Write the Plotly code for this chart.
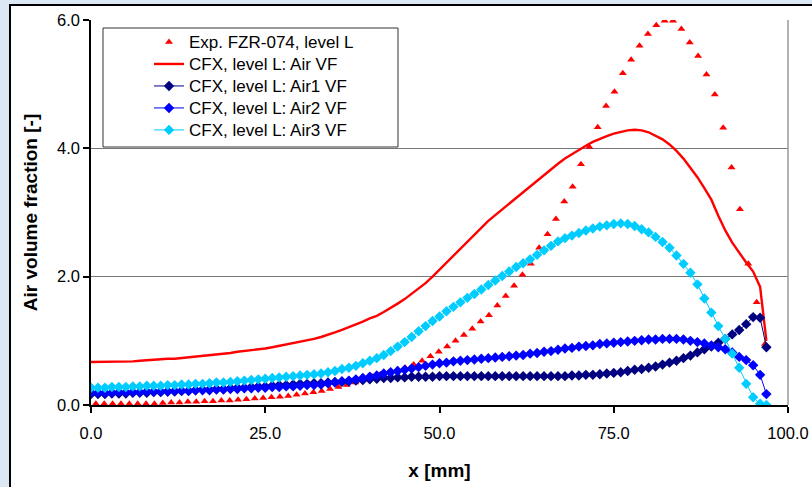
import plotly.graph_objects as go

# ---------------- data ----------------
exp_x = [0.7, 1.9, 3.1, 4.3, 5.5, 6.7, 7.9, 9.1, 10.3, 11.5, 12.7, 13.9, 15.1, 16.3, 17.5,
         18.7, 19.9, 21.1, 22.3, 23.5, 24.7, 25.9, 27.1, 28.3, 29.5, 30.7, 31.9, 33.1, 34.3,
         35.5, 36.7, 37.9, 39.1, 40.3, 41.5, 42.7, 43.9, 45.1, 46.3, 47.5, 48.7, 49.9, 51.1,
         52.3, 53.5, 54.7, 55.9, 57.1, 58.3, 59.5, 60.7, 61.9, 63.1, 64.3, 65.5, 66.7, 67.9,
         69.1, 70.3, 71.5, 72.7, 73.9, 75.1, 76.3, 77.5, 78.7, 79.9, 81.1, 82.3, 83.5, 84.7,
         85.9, 87.1, 88.3, 89.5, 90.7, 91.9, 93.1, 94.3, 95.5, 96.7]
exp_y = [0.02, 0.02, 0.02, 0.02, 0.02, 0.02, 0.02, 0.02, 0.03, 0.04, 0.04, 0.05, 0.05, 0.06, 0.06,
         0.07, 0.07, 0.08, 0.09, 0.10, 0.11, 0.12, 0.13, 0.14, 0.16, 0.18, 0.20, 0.22, 0.25,
         0.28, 0.31, 0.35, 0.40, 0.45, 0.48, 0.51, 0.55, 0.58, 0.63, 0.69, 0.76, 0.83, 0.91,
         1.00, 1.09, 1.19, 1.30, 1.40, 1.55, 1.70, 1.86, 2.03, 2.20, 2.45, 2.66, 2.90, 3.17,
         3.40, 3.75, 4.02, 4.33, 4.66, 4.88, 5.17, 5.38, 5.60, 5.78, 5.92, 5.99, 5.99, 5.86,
         5.65, 5.44, 5.15, 4.84, 4.32, 3.70, 3.05, 2.20, 1.60, 0.95]

cfx_x = [0, 1, 2, 3, 4, 5, 6, 7, 8, 9, 10, 11, 12, 13, 14, 15, 16, 17, 18, 19,
         20, 21, 22, 23, 24, 25, 26, 27, 28, 29, 30, 31, 32, 33, 34, 35, 36, 37, 38, 39,
         40, 41, 42, 43, 44, 45, 46, 47, 48, 49, 50, 51, 52, 53, 54, 55, 56, 57, 58, 59,
         60, 61, 62, 63, 64, 65, 66, 67, 68, 69, 70, 71, 72, 73, 74, 75, 76, 77, 78, 79,
         80, 81, 82, 83, 84, 85, 86, 87, 88, 89, 90, 91, 92, 93, 94, 95, 96, 96.9]

air_vf = [0.67, 0.67, 0.67, 0.67, 0.68, 0.68, 0.68, 0.69, 0.70, 0.71, 0.71, 0.72, 0.72, 0.73, 0.74,
          0.75, 0.76, 0.77, 0.78, 0.80, 0.81, 0.83, 0.84, 0.86, 0.87, 0.88, 0.90, 0.92, 0.94, 0.96,
          0.98, 1.01, 1.03, 1.06, 1.09, 1.13, 1.17, 1.21, 1.25, 1.30, 1.35, 1.39, 1.45, 1.51, 1.58,
          1.65, 1.73, 1.81, 1.90, 2.00, 2.11, 2.22, 2.33, 2.44, 2.55, 2.66, 2.77, 2.87, 2.96, 3.05,
          3.14, 3.23, 3.32, 3.41, 3.50, 3.58, 3.67, 3.76, 3.84, 3.91, 3.98, 4.04, 4.10, 4.15, 4.19,
          4.23, 4.26, 4.28, 4.29, 4.28, 4.25, 4.20, 4.14, 4.06, 3.96, 3.84, 3.70, 3.55, 3.38, 3.20,
          2.95, 2.72, 2.53, 2.37, 2.22, 2.08, 1.84, 1.00]

air1_vf = [0.17, 0.17, 0.17, 0.18, 0.18, 0.18, 0.19, 0.19, 0.19, 0.20, 0.20, 0.21, 0.21, 0.22, 0.22,
           0.23, 0.24, 0.24, 0.25, 0.25, 0.26, 0.27, 0.27, 0.28, 0.29, 0.29, 0.30, 0.31, 0.31, 0.32,
           0.33, 0.33, 0.34, 0.34, 0.35, 0.36, 0.36, 0.37, 0.38, 0.39, 0.40, 0.41, 0.42, 0.42, 0.43,
           0.43, 0.44, 0.44, 0.44, 0.44, 0.45, 0.45, 0.45, 0.45, 0.45, 0.45, 0.45, 0.45, 0.45, 0.45,
           0.45, 0.45, 0.45, 0.45, 0.45, 0.45, 0.45, 0.45, 0.45, 0.46, 0.46, 0.47, 0.47, 0.48, 0.49,
           0.50, 0.51, 0.53, 0.55, 0.56, 0.58, 0.60, 0.63, 0.66, 0.69, 0.73, 0.77, 0.82, 0.87, 0.91,
           0.97, 1.03, 1.10, 1.17, 1.26, 1.37, 1.36, 0.90]

air2_vf = [0.19, 0.19, 0.19, 0.19, 0.20, 0.20, 0.20, 0.20, 0.21, 0.21, 0.21, 0.21, 0.22, 0.22, 0.22,
           0.23, 0.23, 0.23, 0.24, 0.24, 0.25, 0.25, 0.26, 0.26, 0.27, 0.27, 0.28, 0.28, 0.29, 0.29,
           0.30, 0.31, 0.31, 0.32, 0.34, 0.35, 0.37, 0.38, 0.40, 0.42, 0.44, 0.46, 0.49, 0.51, 0.53,
           0.55, 0.57, 0.59, 0.61, 0.63, 0.65, 0.66, 0.68, 0.69, 0.70, 0.71, 0.72, 0.73, 0.74, 0.75,
           0.76, 0.77, 0.78, 0.80, 0.81, 0.83, 0.84, 0.86, 0.88, 0.89, 0.91, 0.92, 0.93, 0.95, 0.96,
           0.97, 0.98, 0.99, 1.00, 1.01, 1.02, 1.02, 1.03, 1.03, 1.03, 1.02, 1.00, 0.98, 0.96, 0.93,
           0.90, 0.87, 0.82, 0.75, 0.70, 0.62, 0.47, 0.17]

air3_vf = [0.27, 0.27, 0.27, 0.28, 0.28, 0.28, 0.29, 0.29, 0.30, 0.30, 0.30, 0.31, 0.31, 0.32, 0.32,
           0.33, 0.33, 0.34, 0.35, 0.35, 0.36, 0.37, 0.38, 0.39, 0.40, 0.41, 0.42, 0.43, 0.44, 0.45,
           0.46, 0.47, 0.48, 0.49, 0.51, 0.53, 0.56, 0.58, 0.61, 0.65, 0.69, 0.73, 0.78, 0.84, 0.91,
           0.98, 1.06, 1.15, 1.23, 1.31, 1.38, 1.46, 1.53, 1.60, 1.67, 1.73, 1.80, 1.87, 1.94, 2.01,
           2.08, 2.15, 2.21, 2.27, 2.34, 2.41, 2.48, 2.55, 2.60, 2.64, 2.68, 2.72, 2.75, 2.78, 2.80,
           2.82, 2.83, 2.82, 2.79, 2.74, 2.69, 2.62, 2.54, 2.45, 2.33, 2.20, 2.06, 1.88, 1.66, 1.44,
           1.23, 1.03, 0.80, 0.58, 0.33, 0.12, 0.02, 0.00]

names = ["Exp. FZR-074, level L", "CFX, level L: Air VF", "CFX, level L: Air1 VF",
         "CFX, level L: Air2 VF", "CFX, level L: Air3 VF"]

x_ticks = [0, 25, 50, 75, 100]
y_ticks = [0, 2, 4, 6]

# ---------------- figure ----------------
FONT = "Arial, Liberation Sans, Helvetica, sans-serif"
W, H = 812, 487
ML, MR, MT, MB = 91, 24, 20, 82
PW, PH = W - ML - MR, H - MT - MB


def px2paper_x(p):
    return (p - ML) / PW


def px2paper_y(p):
    return (H - MB - p) / PH


def legend_label(s):
    return '<span style="font-size:17px">' + s + '</span>'


fig = go.Figure()
fig.add_trace(go.Scatter(x=exp_x, y=exp_y, mode="markers", name=legend_label(names[0]),
                         marker=dict(symbol="triangle-up", size=7, color="#FF0000",
                                     line=dict(width=0))))
fig.add_trace(go.Scatter(x=cfx_x, y=air_vf, mode="lines", name=legend_label(names[1]),
                         line=dict(color="#FF0000", width=2.4)))
fig.add_trace(go.Scatter(x=cfx_x, y=air1_vf, mode="lines+markers", name=legend_label(names[2]),
                         line=dict(color="#000080", width=1),
                         marker=dict(symbol="diamond", size=8, color="#000080")))
fig.add_trace(go.Scatter(x=cfx_x, y=air2_vf, mode="lines+markers", name=legend_label(names[3]),
                         line=dict(color="#0000FF", width=1),
                         marker=dict(symbol="diamond", size=8, color="#0000FF")))
fig.add_trace(go.Scatter(x=cfx_x, y=air3_vf, mode="lines+markers", name=legend_label(names[4]),
                         line=dict(color="#00CCFF", width=1),
                         marker=dict(symbol="diamond", size=8, color="#00CCFF")))

shapes = [
    # white chart area with black frame
    dict(type="rect", xref="paper", yref="paper", layer="below",
         x0=px2paper_x(10), x1=px2paper_x(W + 50), y0=px2paper_y(H + 50), y1=px2paper_y(5),
         fillcolor="white", line=dict(color="black", width=2)),
    # right border of plot area
    dict(type="line", xref="paper", yref="paper", layer="above",
         x0=1, x1=1, y0=0, y1=1, line=dict(color="#999999", width=1.5)),
    # legend box
    dict(type="rect", xref="paper", yref="paper", layer="above",
         x0=px2paper_x(103), x1=px2paper_x(398), y0=px2paper_y(147), y1=px2paper_y(28),
         fillcolor="white", line=dict(color="#333333", width=1)),
]

fig.update_layout(
    width=W, height=H,
    margin=dict(l=ML, r=MR, t=MT, b=MB, autoexpand=False),
    paper_bgcolor="#DCE9F4",
    plot_bgcolor="white",
    font=dict(family=FONT, size=16, color="black"),
    shapes=shapes,
    showlegend=True,
    legend=dict(x=px2paper_x(149), y=px2paper_y(26), xanchor="left", yanchor="top",
                bgcolor="rgba(0,0,0,0)", borderwidth=0,
                font=dict(family=FONT, size=14.6, color="black"),
                tracegroupgap=0),
    xaxis=dict(range=[0, 100], tickvals=x_ticks, tickformat=".1f", automargin=False,
               showgrid=False, zeroline=False,
               showline=True, linecolor="black", linewidth=1.5,
               ticks="outside", ticklen=6, tickcolor="black", tickwidth=1.5,
               ticklabelstandoff=6,
               tickfont=dict(family=FONT, size=16.5),
               title=dict(text="<b>x [mm]</b>", font=dict(family=FONT, size=19), standoff=23)),
    yaxis=dict(range=[0, 6], tickvals=y_ticks, tickformat=".1f", automargin=False,
               showgrid=True, gridcolor="#777777", gridwidth=1.2, zeroline=False,
               showline=True, linecolor="black", linewidth=1.5,
               ticks="outside", ticklen=6, tickcolor="black", tickwidth=1.5,
               tickfont=dict(family=FONT, size=16.5),
               title=dict(text="<b>Air volume fraction [-]</b>", font=dict(family=FONT, size=19),
                          standoff=14)),
)

fig.write_html("out.html", config={"displayModeBar": False},
               post_script="document.body.style.margin='0px';document.body.style.padding='0px';")
